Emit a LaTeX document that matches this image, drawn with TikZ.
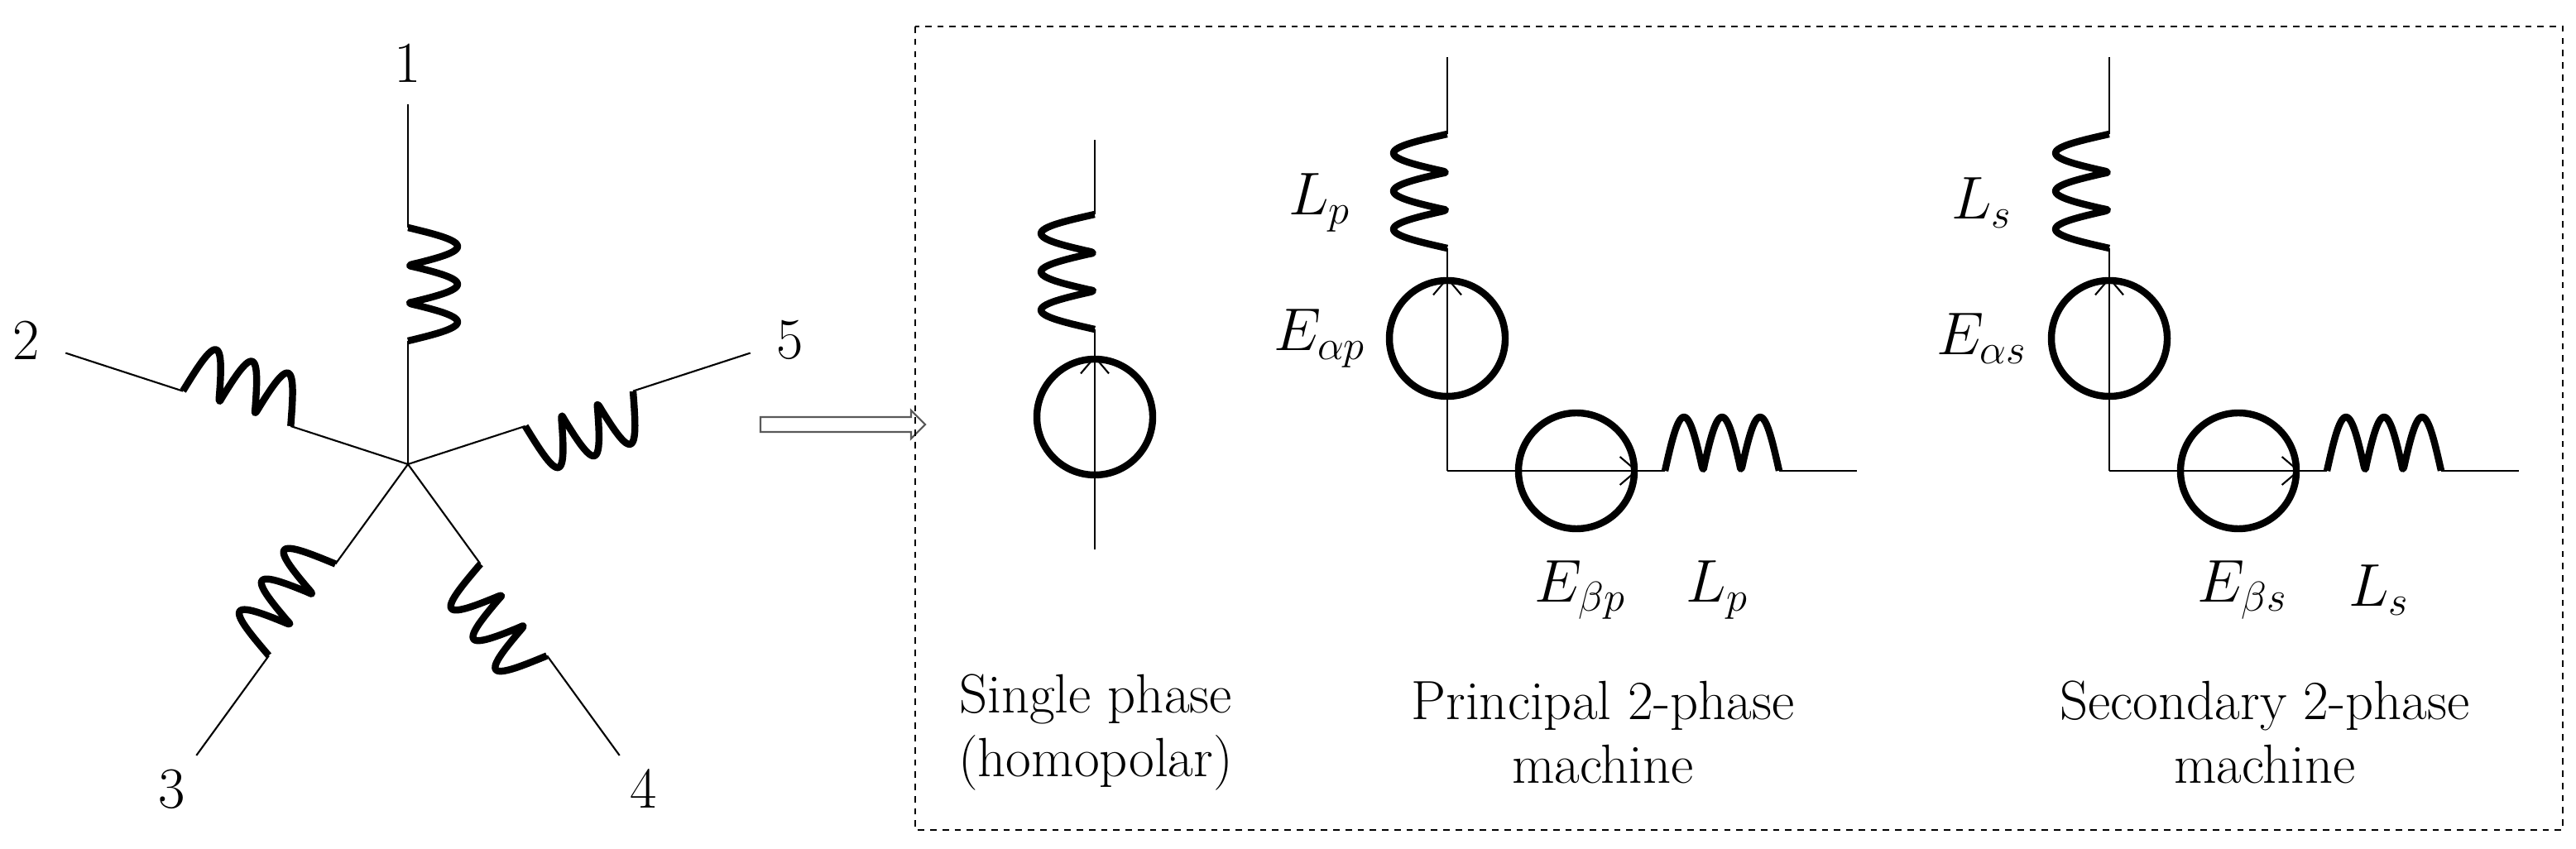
\documentclass[tikz,border=0pt]{standalone}
\usetikzlibrary{arrows.meta}

\newcommand{\winding}[4]{%
	\draw[coil,shift={#1},rotate=#2] plot[domain=0:1,samples=90,smooth]
		({#3*\x},{#4*abs(sin(540*\x))});}

\begin{document}
\begin{tikzpicture}
	[wire/.style={line width=0.6pt},
	 coil/.style={line width=2.4pt,line join=round},
	 source/.style={circle,draw,line width=2.4pt,minimum size=1.4cm,inner sep=0pt},
	 emf/.style={wire,-{Straight Barb[length=2mm,width=3.4mm]}},
	 lbl/.style={inner sep=0pt,font=\fontsize{20}{22}\selectfont},
	 font=\fontsize{19}{22}\selectfont]
	\useasboundingbox (0,0) rectangle (31.13,-10.26);
	% five phase star
	\coordinate (c) at (4.93,-5.61);
	\foreach \k/\ang in {1/90,2/162,3/234,4/306,5/18} {
		\coordinate (in\k) at ([shift={(\ang:1.49)}]c);
		\coordinate (out\k) at ([shift={(\ang:2.86)}]c);
		\coordinate (end\k) at ([shift={(\ang:4.35)}]c);
		\node[lbl] (n\k) at ([shift={(\ang:4.85)}]c) {\k};
		\draw[wire] (c) -- (in\k);
		\draw[wire] (out\k) -- (end\k);
		\winding{(in\k)}{\ang}{1.37}{-0.6}
	}
	% hollow arrow
	\coordinate (tail) at (9.19,-5.13);
	\coordinate (tip) at (11.18,-5.13);
	\draw[wire,gray!70!black,fill=white] ([yshift=0.09cm]tail) -- ++(1.82,0) -- ++(0,0.08)
		-- (tip) -- ++(-0.17,-0.17) -- ++(0,0.08) -- ([yshift=-0.09cm]tail) -- cycle;
	% dashed frame
	\draw[wire,dash pattern=on 2.2pt off 2pt] (11.06,-0.32) rectangle (30.97,-10.03);
	% single phase
	\node[source] (h) at (13.23,-5.04) {};
	\coordinate (hbot) at (13.23,-6.64);
	\coordinate (hin) at (13.23,-3.98);
	\coordinate (hout) at (13.23,-2.59);
	\coordinate (htop) at (13.23,-1.69);
	\draw[emf] (hbot) -- (h.north);
	\draw[wire] (h.north) -- (hin);
	\draw[wire] (hout) -- (htop);
	\winding{(hin)}{90}{1.39}{0.65}
	\node[align=center] (hcap) at (13.24,-8.85) {Single phase\\(homopolar)};
	% two-phase machines
	\foreach \m/\dx/\name in {p/0/Principal,s/8/Secondary} {
		\begin{scope}[xshift=\dx cm]
			\coordinate (top\m) at (17.49,-0.69);
			\coordinate (aout\m) at (17.49,-1.62);
			\coordinate (ain\m) at (17.49,-3.00);
			\node[source] (a\m) at (17.49,-4.09) {};
			\coordinate (cor\m) at (17.49,-5.69);
			\node[source] (b\m) at (19.05,-5.69) {};
			\coordinate (bin\m) at (20.12,-5.69);
			\coordinate (bout\m) at (21.50,-5.69);
			\coordinate (end\m) at (22.44,-5.69);
			\draw[wire] (top\m) -- (aout\m);
			\winding{(ain\m)}{90}{1.38}{0.65}
			\draw[emf] (cor\m) -- (a\m.north);
			\draw[wire] (a\m.north) -- (ain\m);
			\draw[emf] (cor\m) -- (b\m.east);
			\draw[wire] (b\m.east) -- (bin\m);
			\winding{(bin\m)}{0}{1.38}{0.65}
			\draw[wire] (bout\m) -- (end\m);
			\node[lbl] (la\m) at (15.95,-2.45) {$L_\m$};
			\node[lbl] (ea\m) at (15.95,-4.09) {$E_{\alpha \m}$};
			\node[lbl] (eb\m) at (19.10,-7.13) {$E_{\beta \m}$};
			\node[lbl] (lb\m) at (20.75,-7.13) {$L_\m$};
			\node[align=center] (cap\m) at (19.37,-8.85) {\name{} 2-phase\\machine};
		\end{scope}
	}
\end{tikzpicture}
\end{document}
